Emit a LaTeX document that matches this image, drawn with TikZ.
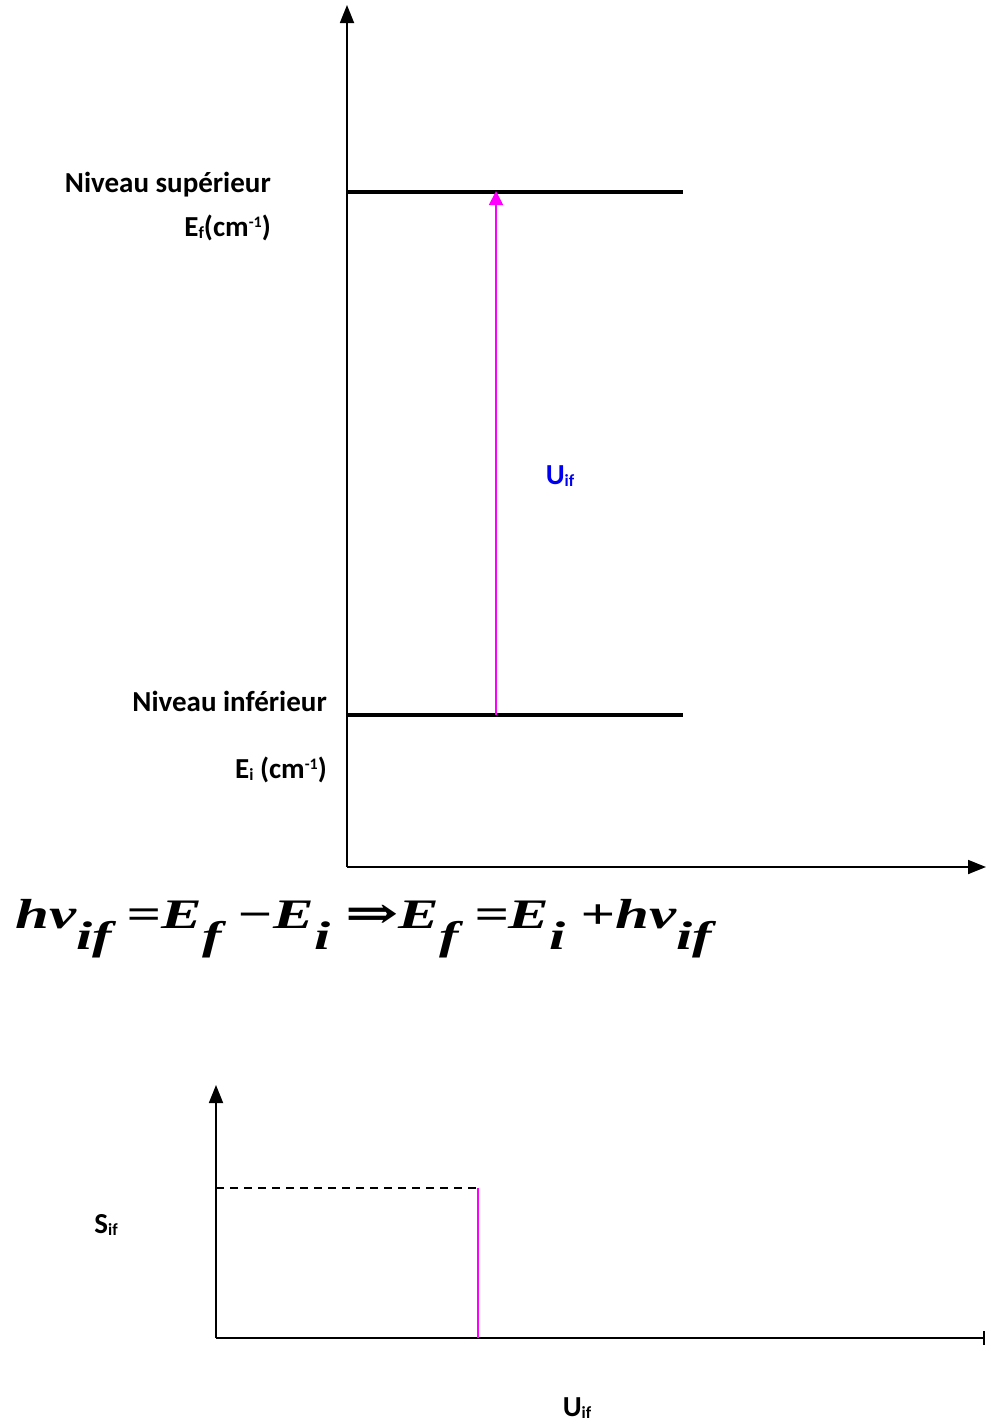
\documentclass[tikz,border=0pt]{standalone}
\usepackage{fontspec}
\setmainfont{Carlito}
\newfontfamily\eqf{Liberation Serif}[FakeStretch=1.45]
\newfontfamily\arrf{DejaVu Serif}[FakeStretch=1.45]
\usetikzlibrary{arrows.meta}
\definecolor{mag}{RGB}{255,0,255}
\definecolor{lblue}{RGB}{0,0,240}
\newcommand\lsub[1]{\raisebox{-2pt}{\fontsize{17}{17}\selectfont #1}}
\newcommand\lsup[1]{\raisebox{9pt}{\fontsize{16}{16}\selectfont #1}}
\newcommand\esub[1]{\raisebox{-21pt}{\fontsize{40}{40}\selectfont #1}}
\begin{document}
\begin{tikzpicture}[x=1pt,y=-1pt,
  axis/.style={line width=1.8pt,black},
  axtip/.style={-{Triangle[length=18pt,width=14pt]}},
  levelline/.style={line width=4.5pt,black},
  lab/.style={font=\fontsize{29}{32}\selectfont\bfseries,inner sep=0pt},
  trans/.style={line width=1.8pt,mag},
]
\useasboundingbox (0,0) rectangle (986,1422);
% top diagram
\coordinate (o) at (347,867);
\coordinate (ytop) at (347,5);
\coordinate (xend) at (986,867);
\draw[axis,axtip] (o) -- (ytop);
\draw[axis,axtip] (o) -- (xend);
\coordinate (fa) at (347,192);
\coordinate (fb) at (683,192);
\coordinate (ia) at (347,715);
\coordinate (ib) at (683,715);
\draw[levelline] (fa) -- (fb);
\draw[levelline] (ia) -- (ib);
\coordinate (tlow) at (496,715);
\coordinate (thigh) at (496,191);
\draw[trans,-{Triangle[length=14pt,width=14pt]}] (tlow) -- (thigh);
\node[lab,text=lblue,anchor=base] (uif) at (560,484) {U\lsub{if}};
\node[lab,anchor=base east] (ns) at (271,192) {Niveau supérieur};
\node[lab,anchor=base east] (ef) at (271,236) {E\lsub{f}(cm\lsup{-1})};
\node[lab,anchor=base east] (ni) at (327,711) {Niveau inférieur};
\node[lab,anchor=base east] (ei) at (327,778) {E\lsub{i} (cm\lsup{-1})};
% equation
\node[inner sep=0pt,anchor=base west] (eq) at (15,928) {\eqf\bfseries\itshape\fontsize{42}{50}\selectfont
 hν\esub{if} =E\esub{f} −E\esub{i} {\arrf\bfseries\upshape\fontsize{44}{50}\selectfont ⇒}E\esub{f} =E\esub{i} +hν\esub{if}};
% bottom diagram
\coordinate (o2) at (216,1338);
\coordinate (ytop2) at (216,1085);
\coordinate (xend2) at (985,1338);
\draw[axis,axtip] (o2) -- (ytop2);
\draw[axis,-{Bar[width=14pt,line width=1.8pt]}] (o2) -- (xend2);
\coordinate (da) at (216,1188);
\coordinate (db) at (478,1188);
\coordinate (pk) at (478,1338);
\draw[axis,dash pattern=on 8pt off 6pt] (da) -- (db);
\draw[trans] (pk) -- (db);
\node[lab,anchor=base] (sif) at (106,1233) {S\lsub{if}};
\node[lab,anchor=base] (uif2) at (577,1416) {U\lsub{if}};
\end{tikzpicture}
\end{document}
